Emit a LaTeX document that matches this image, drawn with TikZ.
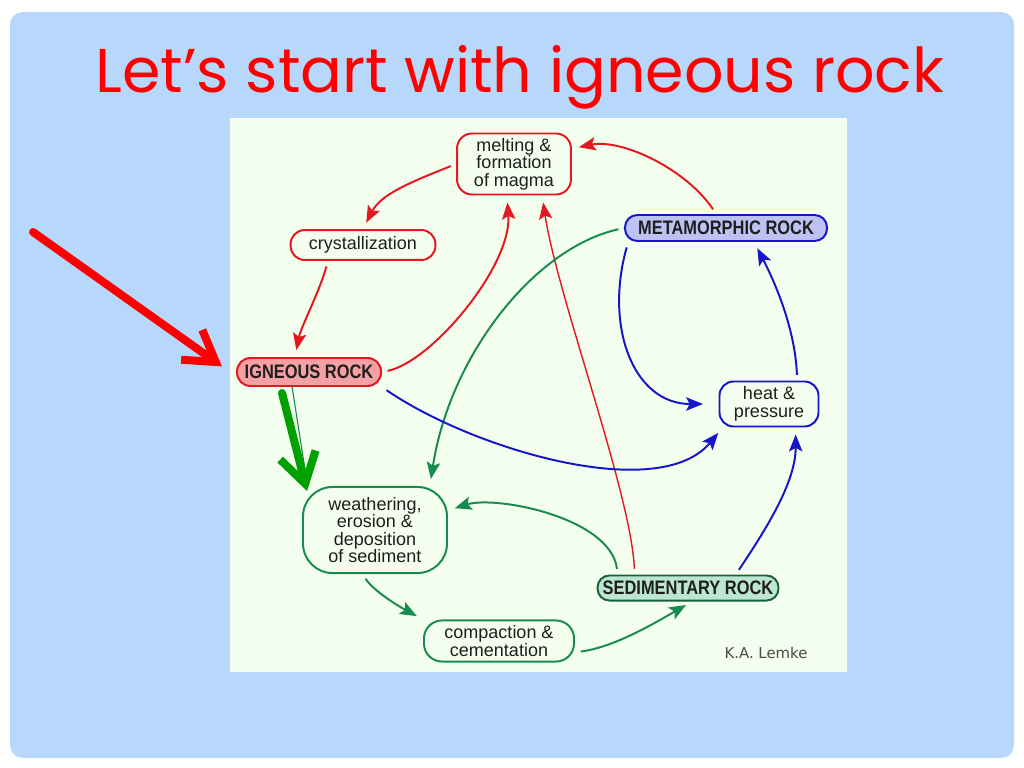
\documentclass[tikz,border=0pt]{standalone}
\usepackage{fontspec}
\setmainfont{Liberation Sans}
\newfontfamily\titlefont{Poppins}
\newfontfamily\rockfont[FakeStretch=0.84]{Liberation Sans}
\newfontfamily\creditfont{DejaVu Sans}
\usetikzlibrary{arrows.meta}

\definecolor{slideblue}{RGB}{183,216,250}
\definecolor{panel}{RGB}{244,254,238}
\definecolor{cyred}{RGB}{228,24,32}
\definecolor{cygreen}{RGB}{24,140,80}
\definecolor{cyblue}{RGB}{22,22,200}
\definecolor{bigreen}{RGB}{0,160,0}
\definecolor{igfill}{RGB}{244,160,164}
\definecolor{mefill}{RGB}{190,194,242}
\definecolor{sefill}{RGB}{188,230,208}
\definecolor{sedraw}{RGB}{24,96,56}
\definecolor{txt}{RGB}{30,30,30}

\begin{document}
\begin{tikzpicture}[x=0.025cm,y=-0.025cm,
  stage/.style={draw=#1,line width=1.4pt,align=center,inner sep=0pt,text=txt,
    font=\fontsize{12.8}{12.4}\selectfont},
  rock/.style={draw=#1,line width=1.4pt,inner sep=0pt,text=txt,
    font=\rockfont\bfseries\fontsize{13.9}{14}\selectfont},
  flow/.style={line width=1.4pt,-{Stealth[length=12pt,width=9.5pt,inset=2.5pt]},
    shorten <=4pt,shorten >=5pt},
  pointer/.style={line width=5.7pt,line cap=round,line join=round,
    -{Straight Barb[length=21pt,width=26pt]}}]
  \useasboundingbox (0,0) rectangle (1024,768);
  \fill[slideblue,rounded corners=9pt] (10,12) rectangle (1014,758);
  \fill[panel] (230,118) rectangle (847,672);
  \node[anchor=base,text=red,font=\titlefont\fontsize{44}{44}\selectfont] (title) at (520,93) {Let’s start with igneous rock};

  % stages of the cycle
  \node[stage=cyred,rounded corners=10.7pt,minimum width=81pt,minimum height=43.4pt] (melt) at (514,164) {melting \&\\formation\\of magma};
  \node[stage=cyred,rounded corners=10pt,minimum width=103pt,minimum height=21.3pt] (cryst) at (363,245) {crystallization};
  \node[rock=cyred,fill=igfill,rounded corners=9.5pt,minimum width=102.4pt,minimum height=19.9pt] (ign) at (309,372) {IGNEOUS ROCK};
  \node[rock=cyblue,fill=mefill,rounded corners=8.8pt,minimum width=143.7pt,minimum height=18.5pt] (meta) at (726,228) {METAMORPHIC ROCK};
  \node[stage=cyblue,rounded corners=10pt,minimum width=70.4pt,minimum height=32pt] (heat) at (769,404) {heat \&\\pressure};
  \node[stage=cygreen,rounded corners=21pt,minimum width=102.4pt,minimum height=61.2pt] (weath) at (375,530) {weathering,\\erosion \&\\deposition\\of sediment};
  \node[rock=sedraw,fill=sefill,rounded corners=8.5pt,minimum width=128.7pt,minimum height=17.8pt] (sedi) at (688,588) {SEDIMENTARY ROCK};
  \node[stage=cygreen,rounded corners=12.8pt,minimum width=106.7pt,minimum height=29.2pt] (comp) at (499,641) {compaction \&\\cementation};
  \node[text=txt!80,font=\creditfont\fontsize{10.6}{12}\selectfont] (credit) at (766,653) {K.A. Lemke};

  % red: melting
  \draw[flow,cyred] (melt.west) .. controls +(-45,18) and +(18,-35) .. (cryst.north);
  \draw[flow,cyred] ([xshift=-25pt]cryst.south) .. controls +(-8,30) and +(6,-30) .. ([xshift=-10pt]ign.north);
  \draw[flow,cyred] (ign.east) .. controls +(50,-10) and +(5,70) .. ([xshift=-5pt]melt.south);
  \draw[flow,cyred] ([xshift=-7pt]meta.north) .. controls +(-30,-45) and +(50,-10) .. ([yshift=11pt]melt.east);
  \draw[flow,cyred,line width=1pt] ([xshift=-38pt]sedi.north) .. controls +(-3,-80) and +(15,100) .. ([xshift=20pt]melt.south);
  % green: sediment
  \draw[flow,cygreen] (meta.west) .. controls +(-90,20) and +(20,-130) .. ([xshift=39pt]weath.north);
  \draw[flow,cygreen] ([xshift=-50pt]sedi.north) .. controls +(-7,-57) and +(48,-15) .. ([yshift=14pt]weath.east);
  \draw[flow,cygreen] ([xshift=-9pt]weath.south) .. controls +(12,18) and +(-22,-12) .. (comp.north west);
  \draw[flow,cygreen] ([yshift=-8pt]comp.east) .. controls +(40,-5) and +(-35,20) .. ([xshift=3pt]sedi.south);
  % blue: heat and pressure
  \draw[flow,cyblue,shorten >=11pt] ([xshift=3pt]meta.south west) .. controls +(-24,85) and +(-85,0) .. (heat.west);
  \draw[flow,cyblue] ([xshift=20pt]heat.north) .. controls +(-2,-55) and +(18,35) .. ([xshift=20pt]meta.south);
  \draw[flow,cyblue] (ign.south east) .. controls +(90,62) and +(-64,77) .. ([xshift=3pt]heat.south west);
  \draw[flow,cyblue] ([xshift=34pt]sedi.north) .. controls +(30,-45) and +(0,55) .. ([xshift=19pt]heat.south);

  % slide pointers
  \draw[cygreen,line width=0.8pt] ([xshift=-12pt]ign.south) -- ([xshift=-48pt]weath.north);
  \coordinate (redtail) at (33,232);
  \coordinate (greentail) at (282,393);
  \draw[pointer,red] (redtail) -- ([xshift=-10pt,yshift=4pt]ign.west);
  \draw[pointer,bigreen] (greentail) -- ([xshift=3.6pt,yshift=-3.6pt]weath.north west);
\end{tikzpicture}
\end{document}
